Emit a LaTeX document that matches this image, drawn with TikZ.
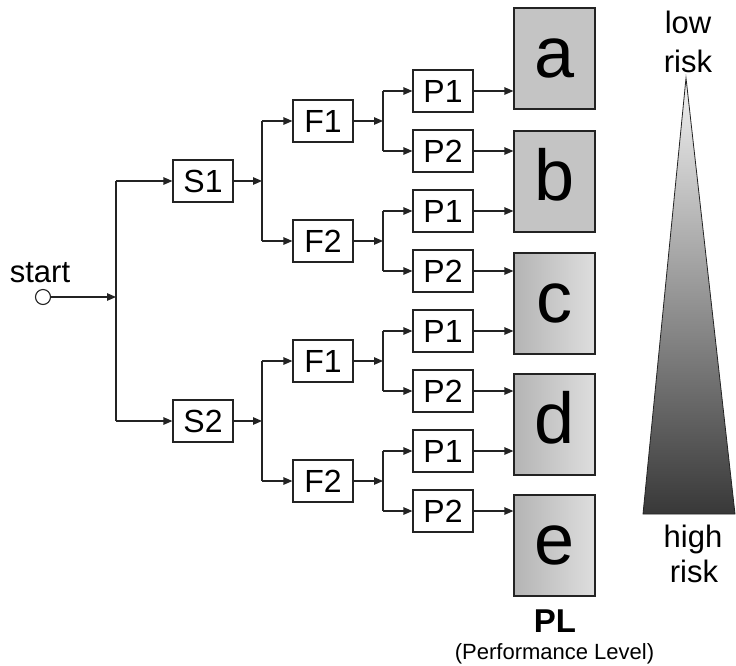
\documentclass[tikz,border=0pt]{standalone}
\usepackage{fontspec}
\setmainfont{Liberation Sans}
\usetikzlibrary{arrows.meta}
\definecolor{boxgray}{RGB}{196,196,196}
\definecolor{gradL}{RGB}{180,180,180}
\definecolor{gradR}{RGB}{222,222,222}
\definecolor{linecol}{RGB}{35,35,35}
\begin{document}
\begin{tikzpicture}[x=1pt,y=-1pt,
  arr/.style={-{Triangle[length=9pt,width=7.5pt]}, line width=1.2pt, draw=linecol},
  ln/.style={line width=1.2pt, draw=linecol},
  blk/.style={draw=linecol, line width=1.2pt, minimum width=60pt, minimum height=42pt, inner sep=0pt,
    font=\fontsize{32}{32}\selectfont, text height=22.5pt, text depth=0pt},
  pl/.style={draw=linecol, line width=1.2pt, minimum width=81pt, minimum height=101pt, inner sep=0pt,
    font=\fontsize{72}{72}\selectfont, text height=37pt, text depth=0pt},
  plflat/.style={pl, fill=boxgray},
  plgrad/.style={pl, left color=gradL, right color=gradR},
  lbl/.style={font=\fontsize{31}{31}\selectfont, inner sep=0pt, anchor=base},
]
\useasboundingbox (0,0) rectangle (736,665);

% start
\node[draw=linecol, line width=1.1pt, circle, minimum size=15pt, inner sep=0pt] (start) at (43,297) {};
\node[lbl] (startlbl) at (40,282) {start};
\coordinate (j0) at (116,297);
\coordinate (j0t) at (116,181);
\coordinate (j0b) at (116,421);

% S nodes
\node[blk] (S1) at (203,181) {S1};
\node[blk] (S2) at (203,421) {S2};

% F nodes
\node[blk] (F1a) at (323,121) {F1};
\node[blk] (F2a) at (323,241) {F2};
\node[blk] (F1b) at (323,361) {F1};
\node[blk] (F2b) at (323,481) {F2};

% P nodes
\node[blk] (Pa) at (443,91) {P1};
\node[blk] (Pb) at (443,151) {P2};
\node[blk] (Pc) at (443,211) {P1};
\node[blk] (Pd) at (443,271) {P2};
\node[blk] (Pe) at (443,331) {P1};
\node[blk] (Pf) at (443,391) {P2};
\node[blk] (Pg) at (443,451) {P1};
\node[blk] (Ph) at (443,511) {P2};

% PL boxes
\node[plflat] (La) at (554.5,58.5) {a};
\node[plflat] (Lb) at (554.5,181.5) {b};
\node[plgrad] (Lc) at (554.5,303.5) {c};
\node[plgrad] (Ld) at (554.5,424.5) {d};
\node[plgrad] (Le) at (554.5,545.5) {e};

% junction coordinates
\coordinate (jS1) at (262,181);
\coordinate (jS1t) at (262,121);
\coordinate (jS1b) at (262,241);
\coordinate (jS2) at (262,421);
\coordinate (jS2t) at (262,361);
\coordinate (jS2b) at (262,481);
\coordinate (jFa) at (383,121);
\coordinate (jFat) at (383,91);
\coordinate (jFab) at (383,151);
\coordinate (jFb) at (383,241);
\coordinate (jFbt) at (383,211);
\coordinate (jFbb) at (383,271);
\coordinate (jFc) at (383,361);
\coordinate (jFct) at (383,331);
\coordinate (jFcb) at (383,391);
\coordinate (jFd) at (383,481);
\coordinate (jFdt) at (383,451);
\coordinate (jFdb) at (383,511);

% start level
\draw[arr] (start) -- (j0);
\draw[ln] (j0t) -- (j0b);
\draw[arr] (j0t) -- (S1);
\draw[arr] (j0b) -- (S2);

% S level
\draw[arr] (S1) -- (jS1);
\draw[ln] (jS1t) -- (jS1b);
\draw[arr] (jS1t) -- (F1a);
\draw[arr] (jS1b) -- (F2a);
\draw[arr] (S2) -- (jS2);
\draw[ln] (jS2t) -- (jS2b);
\draw[arr] (jS2t) -- (F1b);
\draw[arr] (jS2b) -- (F2b);

% F level
\foreach \f/\j/\t/\b/\pt/\pb in {F1a/jFa/jFat/jFab/Pa/Pb, F2a/jFb/jFbt/jFbb/Pc/Pd, F1b/jFc/jFct/jFcb/Pe/Pf, F2b/jFd/jFdt/jFdb/Pg/Ph}{
  \draw[arr] (\f) -- (\j);
  \draw[ln] (\t) -- (\b);
  \draw[arr] (\t) -- (\pt);
  \draw[arr] (\b) -- (\pb);
}

% P to PL
\draw[arr] (Pa.east) -- (Pa.east -| La.west);
\draw[arr] (Pb.east) -- (Pb.east -| Lb.west);
\draw[arr] (Pc.east) -- (Pc.east -| Lb.west);
\draw[arr] (Pd.east) -- (Pd.east -| Lc.west);
\draw[arr] (Pe.east) -- (Pe.east -| Lc.west);
\draw[arr] (Pf.east) -- (Pf.east -| Ld.west);
\draw[arr] (Pg.east) -- (Pg.east -| Ld.west);
\draw[arr] (Ph.east) -- (Ph.east -| Le.west);

% PL caption
\node[font=\bfseries\fontsize{33}{33}\selectfont, inner sep=0pt, anchor=base] (pltitle) at (555,632) {PL};
\node[font=\fontsize{22}{22}\selectfont, inner sep=0pt, anchor=base] (plsub) at (554.5,659) {(Performance Level)};

% risk triangle
\coordinate (tA) at (686,78);
\coordinate (tL) at (643,514);
\coordinate (tR) at (735,514);
\shadedraw[top color=black!5, bottom color=black!78, draw=linecol, line width=0.8pt] (tA) -- (tR) -- (tL) -- cycle;
\node[lbl] (low1) at (688,33) {low};
\node[lbl] (low2) at (688,72) {risk};
\node[lbl] (high1) at (693,547) {high};
\node[lbl] (high2) at (694,582) {risk};
\end{tikzpicture}
\end{document}
